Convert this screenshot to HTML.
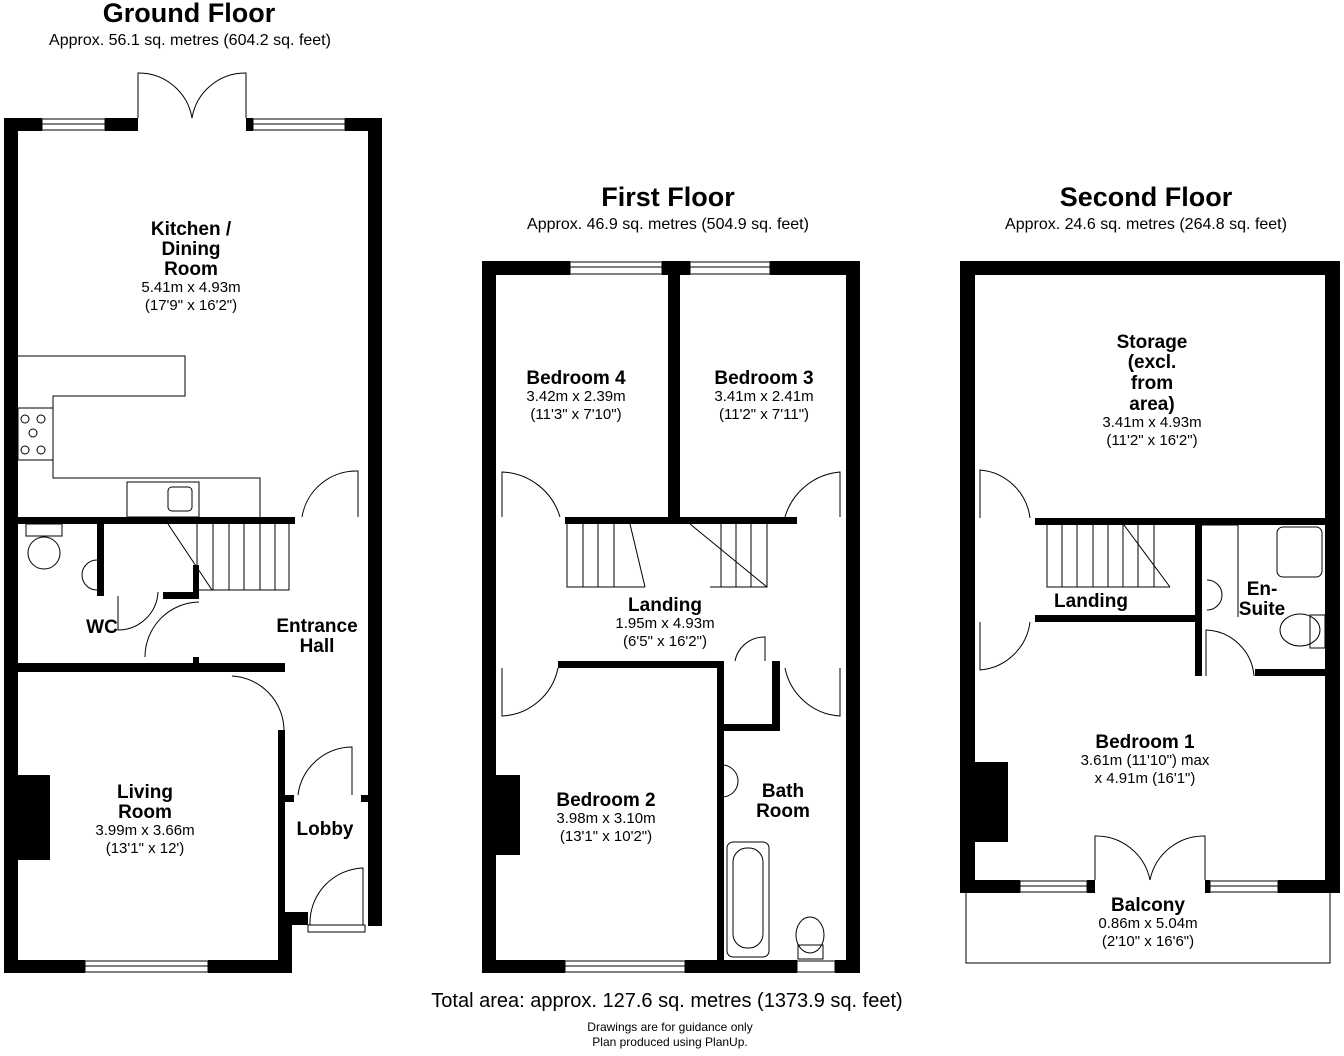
<!DOCTYPE html><html><head><style>body{margin:0;background:#fff}svg{display:block}text{font-family:"Liberation Sans",Arial,sans-serif;text-anchor:middle}.t{font-weight:bold;font-size:19px}.d{font-size:15px}.h{font-weight:bold;font-size:27px}.s{font-size:16px}</style></head><body>
<svg width="1344" height="1056" viewBox="0 0 1344 1056">
<g fill="#000">
<!-- Ground floor walls -->
<rect x="4" y="118" width="14" height="855"/>
<rect x="4" y="118" width="38" height="13"/><rect x="105" y="118" width="33" height="13"/><rect x="246" y="118" width="7" height="13"/><rect x="345" y="118" width="37" height="13"/>
<rect x="368" y="118" width="14" height="808"/>
<rect x="4" y="960" width="81" height="13"/><rect x="208" y="960" width="84" height="13"/>
<rect x="278" y="730" width="7" height="243"/><rect x="278" y="925" width="14" height="48"/>
<rect x="285" y="912" width="23" height="13"/>
<rect x="285" y="795" width="9" height="7"/><rect x="361" y="795" width="7" height="7"/>
<rect x="18" y="517" width="277" height="7"/>
<rect x="97" y="524" width="7" height="72"/><rect x="163" y="592" width="30" height="7"/><rect x="193" y="565" width="6" height="34"/>
<rect x="18" y="663" width="267" height="9"/><rect x="193" y="657" width="6" height="8"/>
<rect x="18" y="775" width="32" height="85"/>
<!-- First floor -->
<rect x="482" y="261" width="14" height="712"/><rect x="846" y="261" width="14" height="712"/>
<rect x="482" y="261" width="88" height="14"/><rect x="662" y="261" width="28" height="14"/><rect x="770" y="261" width="90" height="14"/>
<rect x="668" y="275" width="12" height="245"/>
<rect x="565" y="517" width="232" height="7"/>
<rect x="558" y="661" width="165" height="7"/><rect x="717" y="661" width="7" height="305"/>
<rect x="772" y="661" width="8" height="70"/><rect x="724" y="724" width="56" height="7"/>
<rect x="482" y="960" width="83" height="13"/><rect x="685" y="960" width="112" height="13"/><rect x="835" y="960" width="25" height="13"/>
<rect x="496" y="775" width="24" height="80"/>
<!-- Second floor -->
<rect x="960" y="261" width="15" height="632"/><rect x="1325" y="261" width="15" height="632"/>
<rect x="960" y="261" width="380" height="14"/>
<rect x="1035" y="518" width="290" height="7"/><rect x="1035" y="615" width="167" height="7"/>
<rect x="1195" y="518" width="7" height="158"/><rect x="1255" y="669" width="70" height="7"/>
<rect x="960" y="880" width="60" height="13"/><rect x="1087" y="880" width="8" height="13"/><rect x="1205" y="880" width="5" height="13"/><rect x="1278" y="880" width="62" height="13"/>
<rect x="975" y="762" width="33" height="80"/>
</g>
<g fill="none" stroke="#000" stroke-width="1">
<!-- windows -->
<rect x="42" y="119" width="63" height="11"/><line x1="42" y1="124" x2="105" y2="124"/>
<rect x="253" y="119" width="92" height="11"/><line x1="253" y1="124" x2="345" y2="124"/>
<rect x="85" y="961" width="123" height="11"/><line x1="85" y1="966" x2="208" y2="966"/>
<rect x="308" y="925" width="57" height="7"/>
<rect x="570" y="262" width="92" height="12"/><line x1="570" y1="267" x2="662" y2="267"/>
<rect x="690" y="262" width="80" height="12"/><line x1="690" y1="267" x2="770" y2="267"/>
<rect x="565" y="961" width="120" height="11"/><line x1="565" y1="966" x2="685" y2="966"/>
<rect x="797" y="961" width="38" height="11"/>
<rect x="1020" y="881" width="67" height="11"/><line x1="1020" y1="886" x2="1087" y2="886"/>
<rect x="1210" y="881" width="68" height="11"/><line x1="1210" y1="886" x2="1278" y2="886"/>
<!-- doors -->
<path d="M138 118 V73 A54 54 0 0 1 192 118 M246 118 V73 A54 54 0 0 0 192 118"/>
<path d="M1095 880 V836 A55 55 0 0 1 1150 880 M1205 880 V836 A55 55 0 0 0 1150 880"/>
<path d="M358 517 V471 A55 55 0 0 0 302 517"/>
<path d="M118 596 V630 A40 40 0 0 0 158 592"/>
<path d="M199 602 A55 55 0 0 0 145 657"/>
<path d="M232 676 A55 55 0 0 1 284 730"/>
<path d="M298 795 A55 55 0 0 1 352 747 V795"/>
<path d="M310 925 A55 55 0 0 1 363 868 V925"/>
<path d="M502 517 V472 A63 63 0 0 1 560 517"/><path d="M840 517 V472 A63 63 0 0 0 785 517"/>
<path d="M502 668 V716 A60 60 0 0 0 558 668"/><path d="M840 668 V716 A60 60 0 0 1 785 668"/>
<path d="M735 661 A30 30 0 0 1 765 637 V661"/>
<path d="M980 518 V470 A55 55 0 0 1 1030 518 M980 622 V670 A55 55 0 0 0 1030 622"/>
<path d="M1206 676 V630 A50 50 0 0 1 1254 676"/>
<!-- balcony -->
<path d="M966 893 V963 H1330 V893"/>
<!-- kitchen units -->
<path d="M18 356 H185 V396 H53 V478 H260 V517"/><rect x="18" y="408" width="35" height="52"/>
<circle cx="25" cy="419" r="4"/><circle cx="41" cy="419" r="4"/><circle cx="33" cy="433" r="4"/><circle cx="25" cy="450" r="4"/><circle cx="41" cy="450" r="4"/>
<rect x="127" y="482" width="72" height="35"/><rect x="168" y="487" width="24" height="24" rx="4"/>
<!-- stairs -->
<path d="M197 524 V590 H275 M213 524 V590 M229 524 V590 M244 524 V590 M260 524 V590 M275 524 V590 M289 524 V590 H275 M168 524 L212 590"/>
<path d="M567 524 V587 H645 M583 524 V587 M598 524 V587 M614 524 V587 M630 524 L645 587"/>
<path d="M767 524 V587 H710 M751 524 V587 M736 524 V587 M721 524 V587 M690 524 L767 587"/>
<path d="M1047 525 V587 H1170 M1062 525 V587 M1077 525 V587 M1093 525 V587 M1108 525 V587 M1123 525 V587 M1138 525 V587 M1154 525 V587 M1124 525 L1170 587"/>
<!-- sanitary -->
<ellipse cx="44" cy="553" rx="16" ry="16"/><rect x="26" y="524" width="36" height="12"/>
<path d="M97 560 A15 15 0 0 0 97 590"/>
<path d="M722 765 A16 16 0 0 1 722 797"/>
<rect x="727" y="842" width="42" height="115" rx="6"/><rect x="733" y="848" width="30" height="100" rx="14"/>
<ellipse cx="810" cy="935" rx="14" ry="18"/><rect x="798" y="945" width="25" height="14"/>
<path d="M1207 580 A15 15 0 0 1 1207 610"/>
<rect x="1277" y="527" width="45" height="50" rx="6"/>
<ellipse cx="1300" cy="630" rx="20" ry="16"/><rect x="1310" y="615" width="15" height="33"/>
<path d="M1202 525 H1238 V617"/>
</g>
<g>
<text class="h" x="189" y="22">Ground Floor</text><text class="s" x="190" y="45">Approx. 56.1 sq. metres (604.2 sq. feet)</text>
<text class="h" x="668" y="206">First Floor</text><text class="s" x="668" y="229">Approx. 46.9 sq. metres (504.9 sq. feet)</text>
<text class="h" x="1146" y="206">Second Floor</text><text class="s" x="1146" y="229">Approx. 24.6 sq. metres (264.8 sq. feet)</text>
<text class="t" x="191" y="235">Kitchen /</text><text class="t" x="191" y="255">Dining</text><text class="t" x="191" y="275">Room</text>
<text class="d" x="191" y="292">5.41m x 4.93m</text><text class="d" x="191" y="310">(17'9" x 16'2")</text>
<text class="t" x="102" y="633">WC</text>
<text class="t" x="317" y="632">Entrance</text><text class="t" x="317" y="652">Hall</text>
<text class="t" x="145" y="798">Living</text><text class="t" x="145" y="818">Room</text>
<text class="d" x="145" y="835">3.99m x 3.66m</text><text class="d" x="145" y="853">(13'1" x 12')</text>
<text class="t" x="325" y="835">Lobby</text>
<text class="t" x="576" y="384">Bedroom 4</text><text class="d" x="576" y="401">3.42m x 2.39m</text><text class="d" x="576" y="419">(11'3" x 7'10")</text>
<text class="t" x="764" y="384">Bedroom 3</text><text class="d" x="764" y="401">3.41m x 2.41m</text><text class="d" x="764" y="419">(11'2" x 7'11")</text>
<text class="t" x="665" y="611">Landing</text><text class="d" x="665" y="628">1.95m x 4.93m</text><text class="d" x="665" y="646">(6'5" x 16'2")</text>
<text class="t" x="606" y="806">Bedroom 2</text><text class="d" x="606" y="823">3.98m x 3.10m</text><text class="d" x="606" y="841">(13'1" x 10'2")</text>
<text class="t" x="783" y="797">Bath</text><text class="t" x="783" y="817">Room</text>
<text class="t" x="1152" y="348">Storage</text><text class="t" x="1152" y="368">(excl.</text><text class="t" x="1152" y="389">from</text><text class="t" x="1152" y="410">area)</text>
<text class="d" x="1152" y="427">3.41m x 4.93m</text><text class="d" x="1152" y="445">(11'2" x 16'2")</text>
<text class="t" x="1091" y="607">Landing</text>
<text class="t" x="1262" y="595">En-</text><text class="t" x="1262" y="615">Suite</text>
<text class="t" x="1145" y="748">Bedroom 1</text><text class="d" x="1145" y="765">3.61m (11'10") max</text><text class="d" x="1145" y="783">x 4.91m (16'1")</text>
<text class="t" x="1148" y="911">Balcony</text><text class="d" x="1148" y="928">0.86m x 5.04m</text><text class="d" x="1148" y="946">(2'10" x 16'6")</text>
<text x="667" y="1007" style="font-size:20px">Total area: approx. 127.6 sq. metres (1373.9 sq. feet)</text>
<text x="670" y="1031" style="font-size:12px">Drawings are for guidance only</text><text x="670" y="1046" style="font-size:12px">Plan produced using PlanUp.</text>
</g>
</svg></body></html>
